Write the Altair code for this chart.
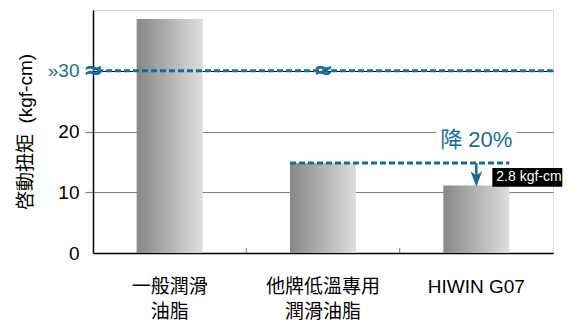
import altair as alt
import pandas as pd

# ---- data ----
categories = ["一般潤滑\n油脂", "他牌低溫專用\n潤滑油脂", "HIWIN G07"]
values = [38.5, 14.8, 11.1]
y_ticks = [0, 10, 20, 30]
break_value = 30
reduction_text = "降 20%"
diff_text = "2.8 kgf-cm"
y_title = "啓動扭矩\u00a0\u00a0(kgf-cm)"

BLUE = "#136d9c"
FONT = "Liberation Sans, Noto Sans CJK TC"

df = pd.DataFrame({"cat": categories, "val": values})

xscale = alt.Scale(domain=categories, paddingInner=0, paddingOuter=0)
yscale = alt.Scale(domain=[0, 40], nice=False)

x_axis = alt.Axis(
    title=None, labelAngle=0, ticks=False, domainColor="black", domainWidth=1.5,
    labelFont=FONT, labelFontSize=19, labelColor="black", labelLineHeight=25,
    labelPadding=24, labelExpr="split(datum.label, '\\n')",
)
y_axis = alt.Axis(
    title=y_title, values=y_ticks, grid=True,
    gridColor={"condition": {"test": "datum.value == 30", "value": "black"}, "value": "#808080"},
    gridWidth=1.2,
    domainColor="black", domainWidth=1.5,
    tickColor="#808080", tickSize=8, tickWidth=1.2,
    tickOpacity={"condition": {"test": "datum.value == 0 || datum.value == 30", "value": 0}, "value": 1},
    labelFont=FONT, labelFontSize=19, labelPadding=6,
    labelColor={"condition": {"test": "datum.value == 30", "value": BLUE}, "value": "black"},
    labelExpr="datum.value == 30 ? '»30' : datum.label",
    titleFont=FONT, titleFontSize=19, titleFontWeight="normal", titleColor="black",
    titlePadding=12,
)

gradient = alt.Gradient(
    gradient="linear",
    stops=[alt.GradientStop(color="#878787", offset=0), alt.GradientStop(color="#dedede", offset=1)],
    x1=0, x2=1, y1=0, y2=0,
)

bars = alt.Chart(df).mark_bar(width=66, color=gradient).encode(
    x=alt.X("cat:N", scale=xscale, axis=x_axis, sort=categories),
    y=alt.Y("val:Q", scale=yscale, axis=y_axis),
)

# inner ticks at band boundaries
tick_df = pd.DataFrame({"cat": categories[:2], "y0": [0, 0], "y1": [0.8, 0.8]})
xticks = alt.Chart(tick_df).mark_rule(color="#808080", strokeWidth=1.2).encode(
    x=alt.X("cat:N", scale=xscale, bandPosition=1, sort=categories),
    y=alt.Y("y0:Q", scale=yscale), y2="y1:Q",
)

# break line at 30
brk_df = pd.DataFrame({"v": [break_value]})
brk_line = alt.Chart(brk_df).mark_rule(color=BLUE, strokeWidth=3, strokeDash=[6, 3]).encode(
    y=alt.Y("v:Q", scale=yscale)
)

squig_df = pd.DataFrame({"cat": [categories[0], categories[1]], "v": [break_value, break_value], "t": ["≈", "≈"]})
squig_left = alt.Chart(squig_df.iloc[[0]]).mark_text(
    color=BLUE, fontSize=24, fontWeight="bold", font="DejaVu Sans", baseline="middle", align="center"
).encode(
    x=alt.X("cat:N", scale=xscale, bandPosition=0, sort=categories),
    y=alt.Y("v:Q", scale=yscale), text="t:N",
)
squig_mid = alt.Chart(squig_df.iloc[[1]]).mark_text(
    color=BLUE, fontSize=24, fontWeight="bold", font="DejaVu Sans", baseline="middle", align="center"
).encode(
    x=alt.X("cat:N", scale=xscale, sort=categories),
    y=alt.Y("v:Q", scale=yscale), text="t:N",
)

# reduction dashed line from bar 2 level to bar 3
red_df = pd.DataFrame({"a": [categories[1]], "b": [categories[2]], "v": [values[1]]})
red_line = alt.Chart(red_df).mark_rule(color=BLUE, strokeWidth=3, strokeDash=[6, 3], xOffset=-33, x2Offset=33).encode(
    x=alt.X("a:N", scale=xscale, sort=categories), x2="b:N",
    y=alt.Y("v:Q", scale=yscale),
)

# arrow
arr_df = pd.DataFrame({"cat": [categories[2]], "top": [values[1]], "bot": [12.4], "head": [12.2]})
arrow_shaft = alt.Chart(arr_df).mark_rule(color=BLUE, strokeWidth=2.5).encode(
    x=alt.X("cat:N", scale=xscale, sort=categories),
    y=alt.Y("top:Q", scale=yscale), y2="bot:Q",
)
arrow_head = alt.Chart(arr_df).mark_point(
    shape="M-0.75,-1L0,-0.45L0.75,-1L0,1Z", size=240, filled=True, color=BLUE, opacity=1
).encode(
    x=alt.X("cat:N", scale=xscale, sort=categories),
    y=alt.Y("head:Q", scale=yscale),
)

# "降 20%" with white background
lab_df = pd.DataFrame({"cat": [categories[2]], "v": [18.6], "lo": [19.3], "hi": [20.7], "t": [reduction_text]})
lab_bg = alt.Chart(lab_df).mark_bar(width=80, color="white").encode(
    x=alt.X("cat:N", scale=xscale, sort=categories),
    y=alt.Y("lo:Q", scale=yscale), y2="hi:Q",
)
lab_text = alt.Chart(lab_df).mark_text(
    color=BLUE, fontSize=22, font=FONT, baseline="middle", align="center"
).encode(
    x=alt.X("cat:N", scale=xscale, sort=categories),
    y=alt.Y("v:Q", scale=yscale), text="t:N",
)

# black box
box_df = pd.DataFrame({"cat": [categories[2]], "lo": [10.9], "hi": [14.0], "mid": [12.45], "t": [diff_text]})
box = alt.Chart(box_df).mark_bar(width=70, color="black", xOffset=51).encode(
    x=alt.X("cat:N", scale=xscale, sort=categories),
    y=alt.Y("lo:Q", scale=yscale), y2="hi:Q",
)
box_text = alt.Chart(box_df).mark_text(
    color="white", fontSize=14, font=FONT, baseline="middle", align="left", dx=20
).encode(
    x=alt.X("cat:N", scale=xscale, sort=categories),
    y=alt.Y("mid:Q", scale=yscale), text="t:N",
)

chart = alt.layer(
    bars, xticks, brk_line, squig_left, squig_mid, red_line, arrow_shaft, arrow_head,
    lab_bg, lab_text, box, box_text,
).properties(
    width=460, height=243,
    autosize=alt.AutoSizeParams(type="none"),
    padding={"left": 85, "top": 2, "right": 10, "bottom": 69},
).configure_view(stroke="black", strokeWidth=1.5).configure(background="white")

chart.save("out.html", embed_options={"renderer": "svg", "actions": False})
